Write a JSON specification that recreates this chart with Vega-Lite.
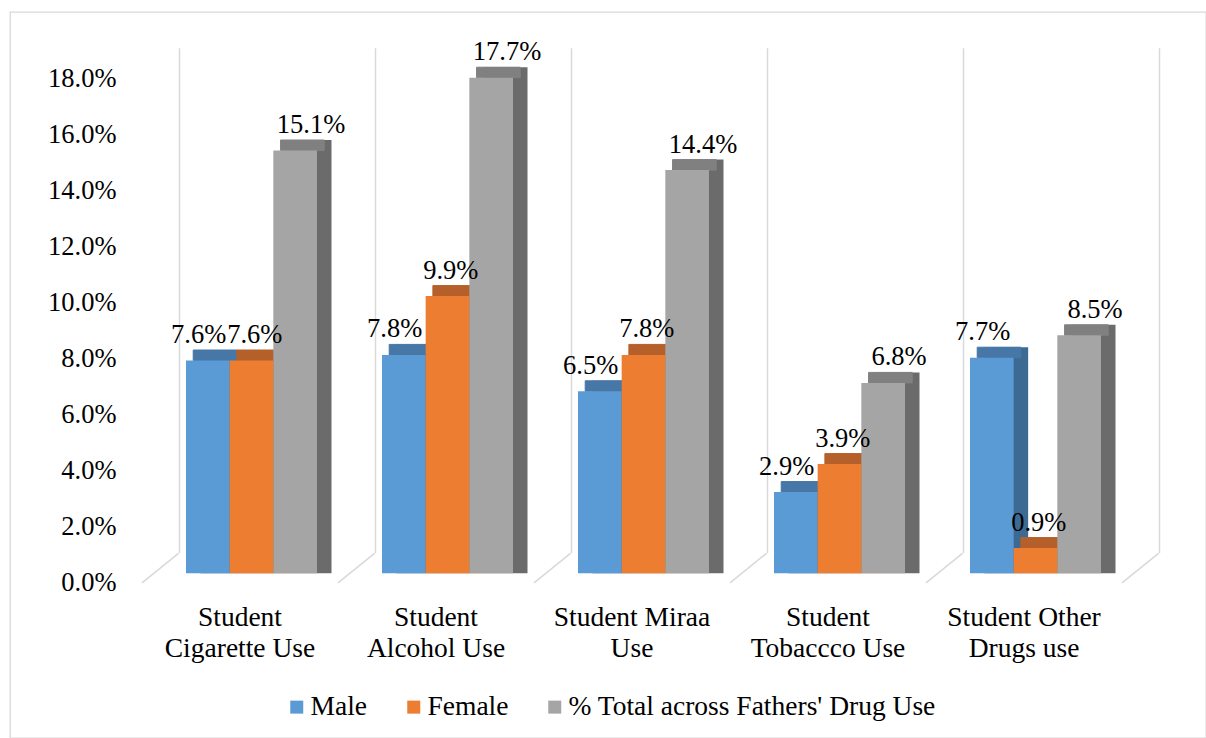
{
  "$schema": "https://vega.github.io/schema/vega-lite/v6.json",
  "width": 1196,
  "height": 726,
  "autosize": "none",
  "padding": {"left": 10, "top": 12, "right": 0, "bottom": 0},
  "background": "#ffffff",
  "config": {
    "view": {"stroke": "#d9d9d9", "strokeWidth": 1.3},
    "font": "Liberation Serif"
  },
  "data": {
    "values": [
      {"cat": "Student Cigarette Use", "series": "Male", "v": 0.076},
      {"cat": "Student Cigarette Use", "series": "Female", "v": 0.076},
      {"cat": "Student Cigarette Use", "series": "% Total across Fathers' Drug Use", "v": 0.151},
      {"cat": "Student Alcohol Use", "series": "Male", "v": 0.078},
      {"cat": "Student Alcohol Use", "series": "Female", "v": 0.099},
      {"cat": "Student Alcohol Use", "series": "% Total across Fathers' Drug Use", "v": 0.177},
      {"cat": "Student Miraa Use", "series": "Male", "v": 0.065},
      {"cat": "Student Miraa Use", "series": "Female", "v": 0.078},
      {"cat": "Student Miraa Use", "series": "% Total across Fathers' Drug Use", "v": 0.144},
      {"cat": "Student Tobaccco Use", "series": "Male", "v": 0.029},
      {"cat": "Student Tobaccco Use", "series": "Female", "v": 0.039},
      {"cat": "Student Tobaccco Use", "series": "% Total across Fathers' Drug Use", "v": 0.068},
      {"cat": "Student Other Drugs use", "series": "Male", "v": 0.077},
      {"cat": "Student Other Drugs use", "series": "Female", "v": 0.009},
      {"cat": "Student Other Drugs use", "series": "% Total across Fathers' Drug Use", "v": 0.085}
    ]
  },
  "encoding": {
    "x": {
      "field": "cat",
      "type": "nominal",
      "sort": null,
      "scale": {"range": [132, 1112], "paddingInner": 0, "paddingOuter": 0},
      "axis": {
        "orient": "bottom",
        "offset": -135,
        "title": null,
        "domain": false,
        "ticks": false,
        "grid": false,
        "labelAngle": 0,
        "labelAlign": "center",
        "labelBaseline": "top",
        "labelPadding": 0,
        "labelFont": "Liberation Serif",
        "labelFontSize": 27.5,
        "labelColor": "#000000",
        "labelLineHeight": 31,
        "labelLimit": 0,
        "labelOverlap": false,
        "labelExpr": "datum.label === 'Student Miraa Use' ? ['Student Miraa', 'Use'] : datum.label === 'Student Other Drugs use' ? ['Student Other', 'Drugs use'] : ['Student', substring(datum.label, 8)]"
      }
    },
    "y": {
      "field": "v",
      "type": "quantitative",
      "stack": null,
      "scale": {"domain": [0, 0.18], "range": [561.3, 57.3], "nice": false, "zero": true},
      "axis": {
        "orient": "left",
        "offset": -106,
        "title": null,
        "domain": false,
        "ticks": false,
        "grid": false,
        "format": ".1%",
        "values": [0, 0.02, 0.04, 0.06, 0.08, 0.1, 0.12, 0.14, 0.16, 0.18],
        "labelPadding": 0,
        "labelOffset": 9,
        "labelFont": "Liberation Serif",
        "labelFontSize": 26.5,
        "labelColor": "#000000"
      }
    }
  },
  "layer": [
    {
      "transform": [{"filter": "datum.series === 'Male'"}],
      "mark": {"type": "rule", "color": "#d9d9d9", "strokeWidth": 1.5, "xOffset": 37.5, "yOffset": -20, "y2Offset": -21},
      "encoding": {
        "x": {"field": "cat", "type": "nominal", "sort": null, "bandPosition": 0},
        "y": {"datum": 0},
        "y2": {"datum": 0.18}
      }
    },
    {
      "transform": [{"filter": "datum.series === 'Male' && datum.cat === 'Student Other Drugs use'"}],
      "mark": {"type": "rule", "color": "#d9d9d9", "strokeWidth": 1.5, "xOffset": 37.5, "yOffset": -20, "y2Offset": -21},
      "encoding": {
        "x": {"field": "cat", "type": "nominal", "sort": null, "bandPosition": 1},
        "y": {"datum": 0},
        "y2": {"datum": 0.18}
      }
    },
    {
      "transform": [{"filter": "datum.series === 'Male'"}],
      "mark": {"type": "rule", "color": "#d9d9d9", "strokeWidth": 1.5, "x2Offset": 36.5, "yOffset": 9.5, "y2Offset": -20},
      "encoding": {
        "x": {"field": "cat", "type": "nominal", "sort": null, "bandPosition": 0},
        "x2": {"field": "cat", "bandPosition": 0},
        "y": {"datum": 0},
        "y2": {"datum": 0}
      }
    },
    {
      "transform": [{"filter": "datum.series === 'Male' && datum.cat === 'Student Other Drugs use'"}],
      "mark": {"type": "rule", "color": "#d9d9d9", "strokeWidth": 1.5, "x2Offset": 36.5, "yOffset": 9.5, "y2Offset": -20},
      "encoding": {
        "x": {"field": "cat", "type": "nominal", "sort": null, "bandPosition": 1},
        "x2": {"field": "cat", "bandPosition": 1},
        "y": {"datum": 0},
        "y2": {"datum": 0}
      }
    },
    {
      "mark": {"type": "bar", "yOffset": -10.5, "y2Offset": -10.5},
      "encoding": {
        "xOffset": {
          "field": "series",
          "type": "nominal",
          "scale": {"domain": ["Male", "Female", "% Total across Fathers' Drug Use"], "paddingInner": 0, "paddingOuter": 0.744, "align": 0.9}
        },
        "fill": {
          "field": "series",
          "type": "nominal",
          "scale": {"domain": ["Male", "Female", "% Total across Fathers' Drug Use"], "range": ["#3d6a93", "#ad5a21", "#6b6b6b"]},
          "legend": null
        }
      }
    },
    {
      "mark": {"type": "bar", "yOffset": -10.5, "y2Offset": 0},
      "encoding": {
        "y2": {"field": "v"},
        "xOffset": {
          "field": "series",
          "type": "nominal",
          "scale": {"domain": ["Male", "Female", "% Total across Fathers' Drug Use"], "paddingInner": 0, "paddingOuter": 0.744, "align": 0.788}
        },
        "stroke": {
          "field": "series",
          "type": "nominal",
          "scale": {"domain": ["Male", "Female", "% Total across Fathers' Drug Use"], "range": ["#4677a6", "#b5602a", "#808080"]},
          "legend": null
        },
        "fill": {
          "field": "series",
          "type": "nominal",
          "scale": {"domain": ["Male", "Female", "% Total across Fathers' Drug Use"], "range": ["#4677a6", "#b5602a", "#808080"]},
          "legend": null
        }
      }
    },
    {
      "mark": {"type": "bar"},
      "encoding": {
        "xOffset": {
          "field": "series",
          "type": "nominal",
          "scale": {"domain": ["Male", "Female", "% Total across Fathers' Drug Use"], "paddingInner": 0, "paddingOuter": 0.744, "align": 0.677}
        },
        "color": {
          "field": "series",
          "type": "nominal",
          "scale": {"domain": ["Male", "Female", "% Total across Fathers' Drug Use"], "range": ["#5b9bd5", "#ed7d31", "#a5a5a5"]},
          "legend": {
            "orient": "none",
            "legendX": 273,
            "legendY": 681,
            "direction": "horizontal",
            "title": null,
            "padding": 0,
            "symbolType": "square",
            "symbolSize": 169,
            "symbolStrokeWidth": 0,
            "labelFont": "Liberation Serif",
            "labelFontSize": 27.5,
            "labelColor": "#000000",
            "labelOffset": 0,
            "labelLimit": 0,
            "columnPadding": 32
          }
        }
      }
    },
    {
      "mark": {"type": "text", "dy": -17.5, "baseline": "alphabetic", "align": "center", "font": "Liberation Serif", "fontSize": 26.5, "color": "#000000"},
      "encoding": {
        "xOffset": {
          "field": "series",
          "type": "nominal",
          "scale": {"domain": ["Male", "Female", "% Total across Fathers' Drug Use"], "paddingInner": 0, "paddingOuter": 0.744, "align": 0.677}
        },
        "text": {"field": "v", "type": "quantitative", "format": ".1%"}
      }
    }
  ],
  "resolve": {"scale": {"xOffset": "independent", "fill": "independent", "stroke": "independent", "color": "independent"}}
}
